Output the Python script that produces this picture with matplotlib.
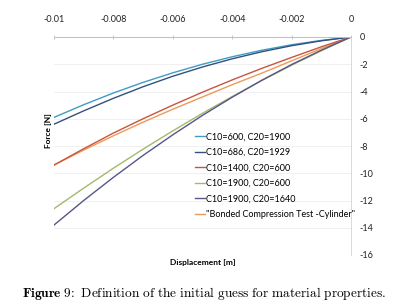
import numpy as np
import matplotlib
matplotlib.use("Agg")
import matplotlib.pyplot as plt

plt.rcParams['font.family'] = ['Lato', 'DejaVu Sans']
plt.rcParams['mathtext.fontset'] = 'cm'

# displacement [m]
disp = [0, -0.001, -0.002, -0.003, -0.004, -0.005, -0.006, -0.007, -0.008, -0.009, -0.01]

# force [N] per parameter set
f_600_1900 = [0, -0.25, -0.57, -0.97, -1.45, -2.0, -2.63, -3.33, -4.11, -4.97, -5.9]
f_686_1929 = [0, -0.28, -0.64, -1.08, -1.6, -2.2, -2.88, -3.65, -4.5, -5.42, -6.4]
f_1400_600 = [0, -0.72, -1.5, -2.3, -3.15, -4.05, -5.0, -6.0, -7.05, -8.2, -9.4]
f_1900_600 = [0, -1.01, -2.07, -3.19, -4.37, -5.6, -6.89, -8.23, -9.63, -11.09, -12.6]
f_1900_1640 = [0, -0.97, -2.02, -3.17, -4.42, -5.75, -7.18, -8.69, -10.3, -12.0, -13.8]
f_test = [0, -0.85, -1.75, -2.65, -3.5, -4.4, -5.3, -6.25, -7.25, -8.3, -9.4]

labels = ['C10=600, C20=1900', 'C10=686, C20=1929', 'C10=1400, C20=600',
          'C10=1900, C20=600', 'C10=1900, C20=1640',
          '"Bonded Compression Test -Cylinder"']
series = [f_600_1900, f_686_1929, f_1400_600, f_1900_600, f_1900_1640, f_test]
colors = ['#3f9cc4', '#34507e', '#c8553d', '#a3b96a', '#56568a', '#eb9a5c']

xticks = [-0.01, -0.008, -0.006, -0.004, -0.002, 0]
xticklabels = ['-0.01', '-0.008', '-0.006', '-0.004', '-0.002', '0']
yticks = [0, -2, -4, -6, -8, -10, -12, -14, -16]

fig = plt.figure(figsize=(4.01, 3.08), dpi=100)
ax = fig.add_axes([54/401, 1-255/308, 297/401, 218/308])

handles = []
for ys, lab, c in zip(series, labels, colors):
    h, = ax.plot(disp, ys, color=c, lw=1.0, label=lab)
    handles.append(h)
# draw experimental curve under the red one
handles[5].set_zorder(1.9)

ax.set_xlim(-0.01, 0)
ax.set_ylim(-16, 0)
ax.set_xticks(xticks)
ax.set_xticklabels(xticklabels)
ax.set_yticks(yticks)
ax.set_yticklabels([str(v) for v in yticks])
ax.xaxis.tick_top()
ax.yaxis.tick_right()
ax.tick_params(axis='x', length=3, width=0.6, color='#bfbfbf', pad=8, labelsize=6.5, labelcolor='#222222', direction='inout')
ax.tick_params(axis='y', length=0, pad=6, labelsize=6.5, labelcolor='#222222')

for s in ['left', 'bottom']:
    ax.spines[s].set_visible(False)
ax.spines['top'].set_color('#bfbfbf')
ax.spines['top'].set_linewidth(0.7)
ax.spines['right'].set_color('#d9d9d9')
ax.spines['right'].set_linewidth(0.7)
ax.grid(axis='y', color='#eeeeee', lw=0.6)
ax.set_axisbelow(True)

fig.text(48/401, 1-131/308, 'Force [N]', rotation=90, ha='center', va='center',
         fontsize=6, fontweight='bold')
fig.text(203/401, 1-263/308, 'Displacement [m]', ha='center', va='center',
         fontsize=6, fontweight='bold')

leg = ax.legend(handles=handles, loc='upper left', bbox_to_anchor=((191-54)/297, (37-129)/218 + 1),
                frameon=False, fontsize=6.5, handlelength=1.1, handletextpad=0.2,
                labelspacing=0.72, borderaxespad=0)

fig.text(204/401, 1-294/308,
         r'$\mathbf{Figure\ 9\!:}\ \mathrm{Definition\ of\ the\ initial\ guess\ for\ material\ properties.}$',
         ha='center', va='center', fontsize=9.6)

fig.savefig('out.png', dpi=100)
